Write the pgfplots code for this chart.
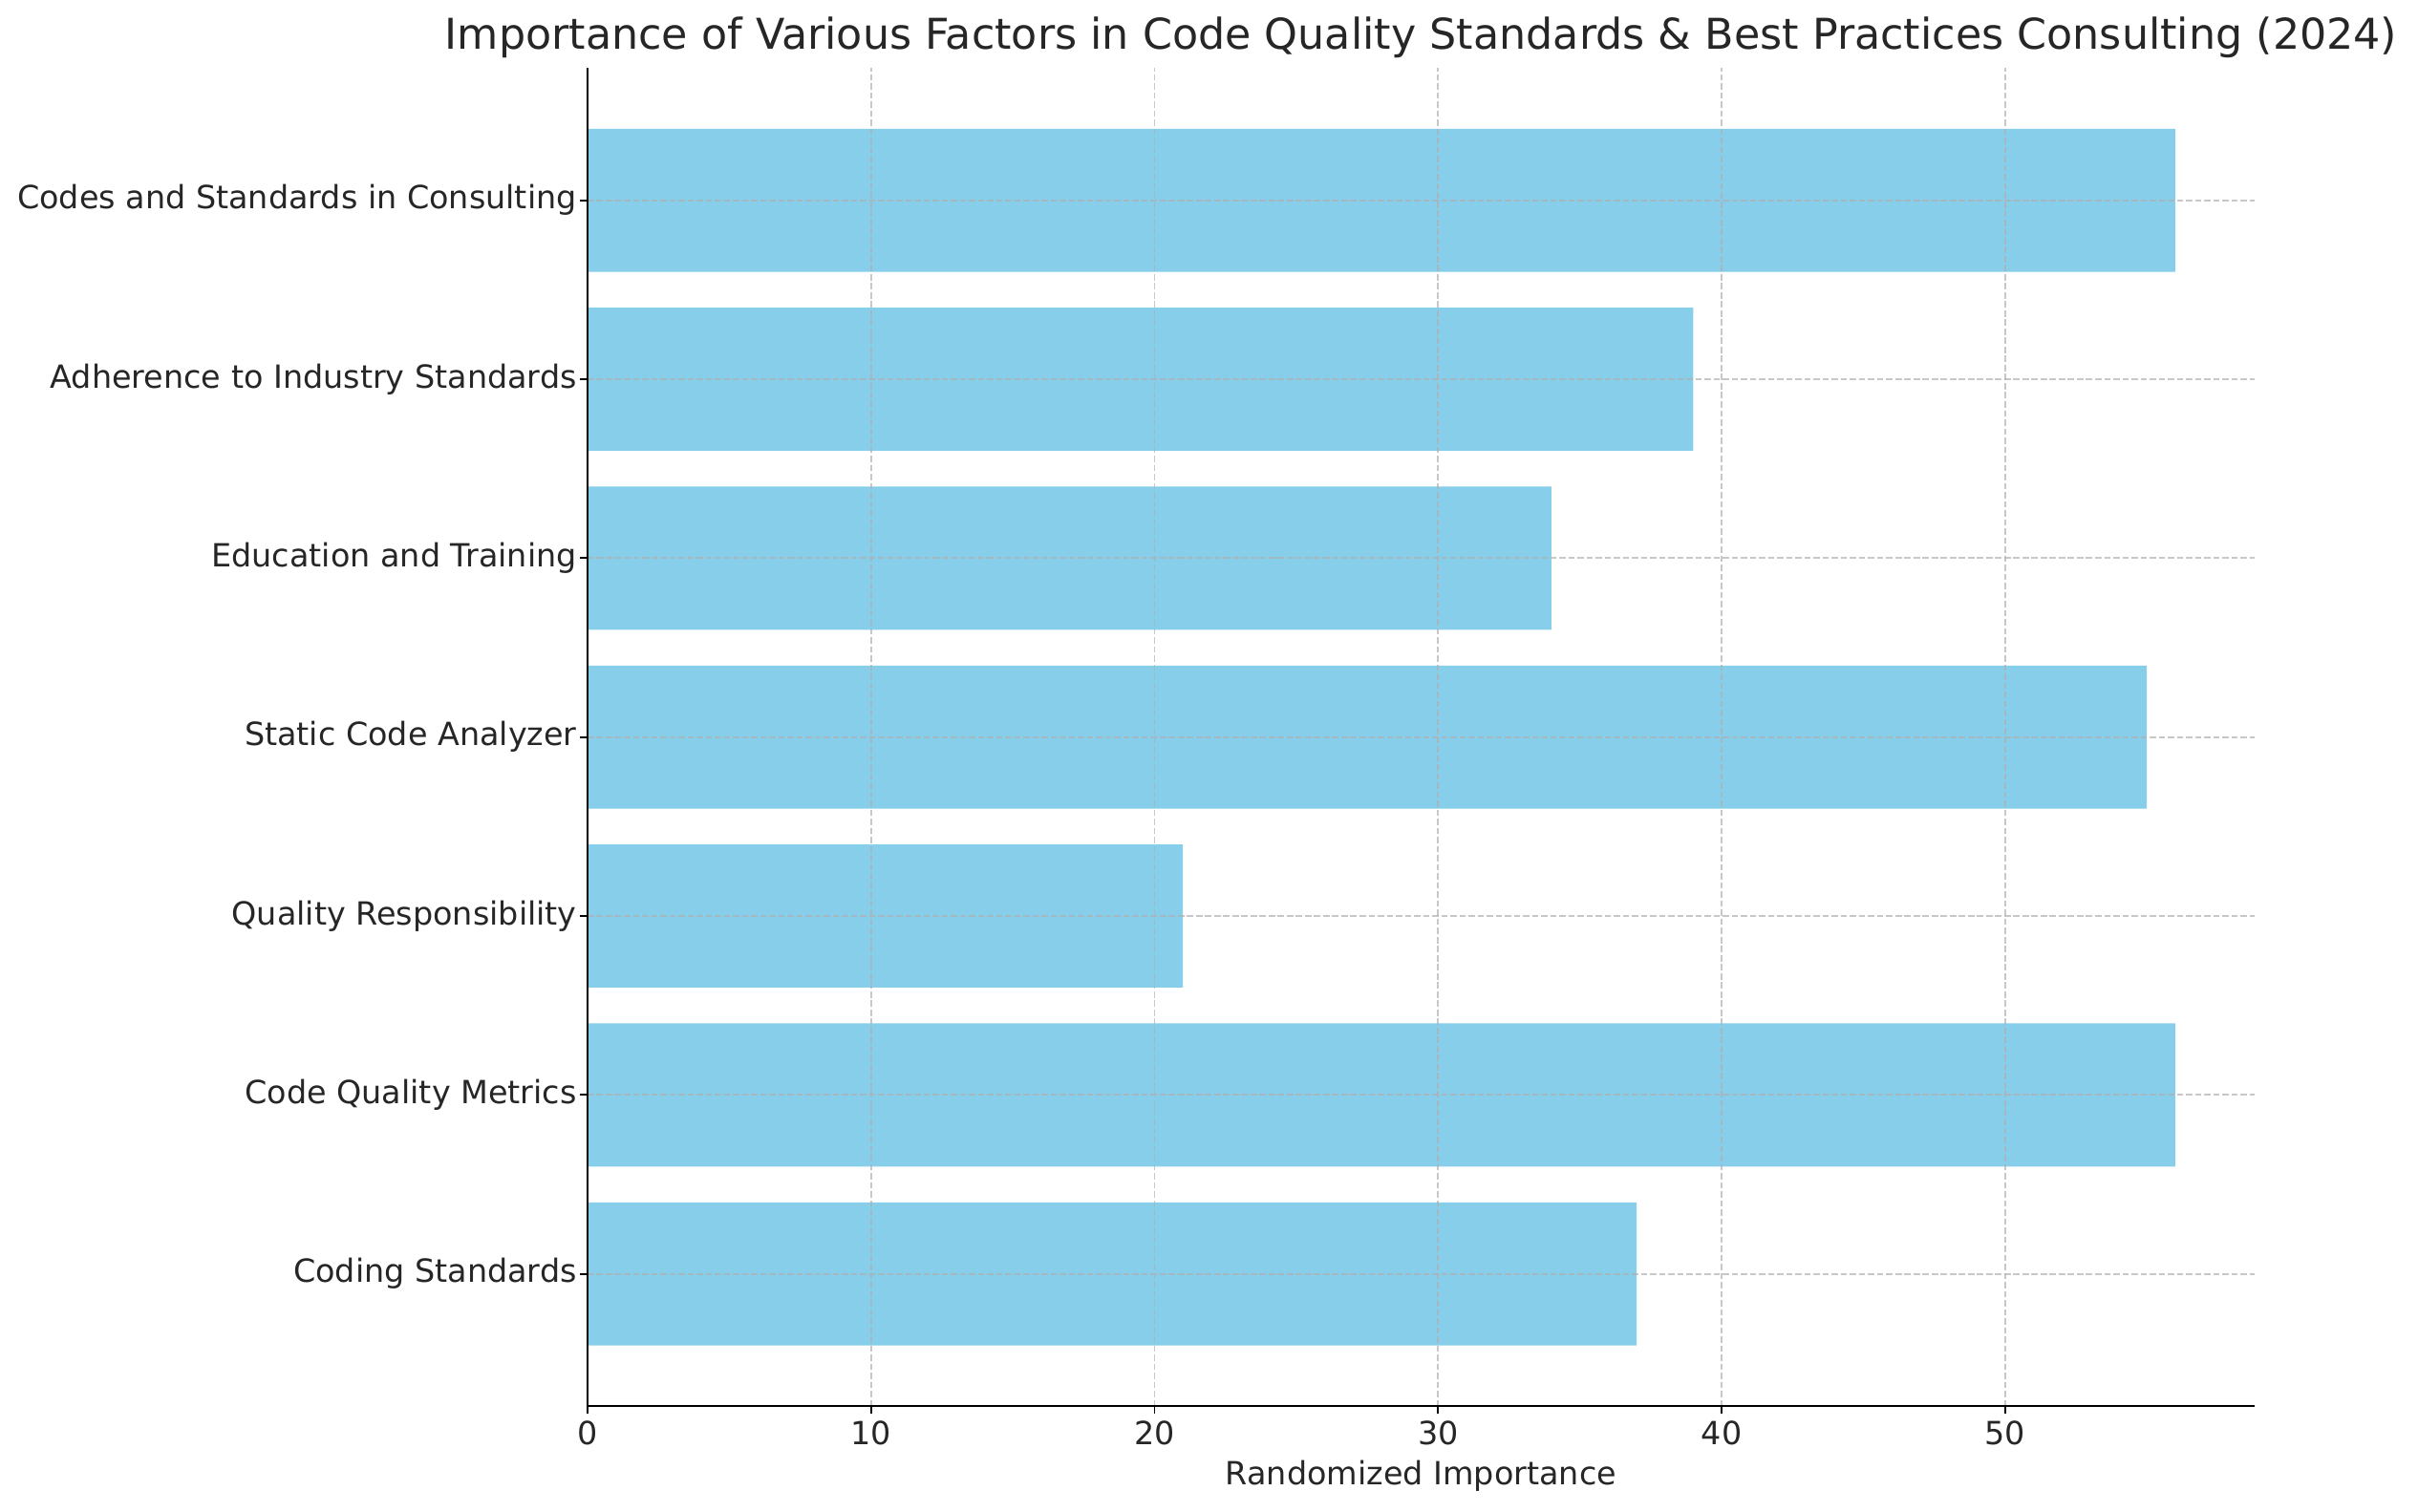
\documentclass[border=0pt]{standalone}
\usepackage{pgfplots}
\pgfplotsset{compat=1.18}
\usepackage{fontspec}
\setmainfont{DejaVu Sans}
\definecolor{skyb}{RGB}{135,206,235}
\definecolor{gridc}{RGB}{176,176,176}
\definecolor{txt}{RGB}{38,38,38}
\begin{document}
\begin{tikzpicture}
\begin{axis}[
  scale only axis, width=778.3pt, height=625pt,
  xmin=0, xmax=58.8, ymin=-0.74, ymax=6.74,
  xbar, bar width=0.8,
  ytick={0,1,2,3,4,5,6},
  yticklabels={Coding Standards, Code Quality Metrics, Quality Responsibility, Static Code Analyzer, Education and Training, Adherence to Industry Standards, Codes and Standards in Consulting},
  xtick={0,10,20,30,40,50},
  axis x line*=bottom, axis y line*=left,
  axis line style={line width=0.8pt, -},
  tick style={line width=0.8pt, black},
  tick align=outside, major tick length=3.5pt,
  grid=major,
  grid style={gridc, opacity=0.7, line width=0.8pt, dash pattern=on 2.96pt off 1.28pt},
  axis on top,
  tick label style={font=\fontsize{14.9}{17}\selectfont, text=txt},
  yticklabel style={xshift=2pt},
  /pgf/number format/assume math mode=true,
  xlabel={Randomized Importance},
  xlabel style={font=\fontsize{14.9}{17}\selectfont, text=txt},
  title={Importance of Various Factors in Code Quality Standards \& Best Practices Consulting (2024)},
  title style={font=\fontsize{19.8}{23}\selectfont, text=txt, yshift=-5pt},
]
\addplot[fill=skyb, draw=none] coordinates {
(37,0) (56,1) (21,2) (55,3) (34,4) (39,5) (56,6)
};
\end{axis}
\useasboundingbox ([xshift=-274.3pt, yshift=-49pt]current axis.south west) rectangle ([xshift=76.3pt, yshift=31.7pt]current axis.north east);
\end{tikzpicture}
\end{document}
